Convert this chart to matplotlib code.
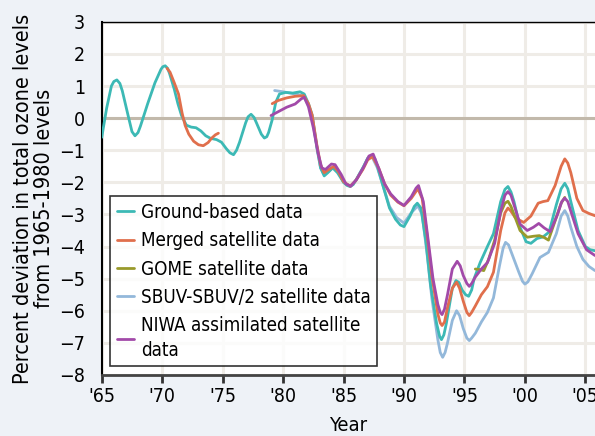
import matplotlib
matplotlib.use("Agg")
from matplotlib import pyplot as plt

# Ground-based data
ground_yr = [1965.0, 1965.4, 1965.8, 1966.0, 1966.25, 1966.5, 1966.7, 1967.2, 1967.5, 1967.75,
             1968.0, 1968.2, 1968.8, 1969.4, 1969.9, 1970.05, 1970.25, 1970.45, 1970.6, 1971.0,
             1971.3, 1971.6, 1972.0, 1972.4, 1972.8, 1973.2, 1973.6, 1974.0, 1974.5, 1974.9,
             1975.3, 1975.6, 1975.9, 1976.15, 1976.4, 1976.9, 1977.1, 1977.35, 1977.6, 1977.8,
             1978.2, 1978.45, 1978.65, 1978.8, 1979.1, 1979.4, 1979.7, 1980.2, 1980.8, 1981.4,
             1981.75, 1982.1, 1982.4, 1982.8, 1983.1, 1983.4, 1983.7, 1984.1, 1984.5, 1985.0,
             1985.3, 1985.55, 1985.8, 1986.0, 1986.6, 1987.0, 1987.35, 1987.6, 1987.8, 1988.3,
             1988.8, 1989.3, 1989.7, 1990.0, 1990.5, 1990.85, 1991.1, 1991.4, 1991.8, 1992.2,
             1992.7, 1992.95, 1993.1, 1993.3, 1993.5, 1994.0, 1994.3, 1994.55, 1994.8, 1995.1,
             1995.35, 1995.6, 1995.8, 1996.3, 1996.9, 1997.4, 1998.0, 1998.35, 1998.6, 1998.85,
             1999.1, 1999.6, 2000.1, 2000.5, 2001.0, 2001.5, 2002.0, 2002.6, 2003.0, 2003.3,
             2003.55, 2003.8, 2004.4, 2005.0, 2005.4, 2005.8]
ground_val = [-0.6, 0.3, 1.0, 1.14, 1.19, 1.08, 0.85, 0.05, -0.42, -0.55,
              -0.45, -0.25, 0.45, 1.1, 1.52, 1.6, 1.63, 1.55, 1.4, 0.9,
              0.45, 0.08, -0.22, -0.28, -0.3, -0.4, -0.55, -0.63, -0.67, -0.75,
              -0.95, -1.08, -1.14, -1.0, -0.75, -0.15, 0.04, 0.12, 0.02, -0.15,
              -0.5, -0.62, -0.58, -0.45, -0.05, 0.5, 0.75, 0.8, 0.78, 0.82,
              0.75, 0.45, 0.1, -0.9, -1.55, -1.8, -1.7, -1.55, -1.7, -2.0,
              -2.1, -2.13, -2.07, -1.95, -1.55, -1.25, -1.17, -1.27, -1.5, -2.15,
              -2.8, -3.15, -3.33, -3.38, -3.05, -2.75, -2.65, -2.8, -3.8, -5.2,
              -6.4, -6.8, -6.9, -6.75, -6.4, -5.3, -5.06, -5.12, -5.35, -5.5,
              -5.55, -5.35, -5.0, -4.5, -4.0, -3.6, -2.6, -2.22, -2.13, -2.3,
              -2.6, -3.4, -3.85, -3.9, -3.75, -3.7, -3.55, -2.7, -2.2, -2.03,
              -2.2, -2.6, -3.5, -4.0, -4.1, -4.13]

# Merged satellite data (two pieces)
merged1_yr = [1970.4, 1970.65, 1971.0, 1971.35, 1971.65, 1971.9, 1972.2, 1972.6, 1973.0, 1973.4,
              1973.8, 1974.1, 1974.4, 1974.65]
merged1_val = [1.55, 1.43, 1.1, 0.75, 0.15, -0.23, -0.5, -0.72, -0.83, -0.86,
               -0.76, -0.62, -0.52, -0.47]
merged2_yr = [1979.1, 1979.6, 1980.3, 1981.0, 1981.7, 1982.1, 1982.4, 1982.8, 1983.1, 1983.4,
              1983.7, 1984.2, 1984.6, 1985.0, 1985.55, 1986.0, 1986.6, 1987.0, 1987.4, 1987.9,
              1988.4, 1988.9, 1989.5, 1990.0, 1990.6, 1991.15, 1991.5, 1991.9, 1992.3, 1992.8,
              1993.0, 1993.15, 1993.35, 1993.6, 1994.0, 1994.35, 1994.6, 1994.9, 1995.2, 1995.4,
              1995.6, 1995.9, 1996.4, 1996.9, 1997.4, 1998.0, 1998.35, 1998.6, 1998.85, 1999.2,
              1999.9, 2000.5, 2001.1, 2001.5, 2001.9, 2002.5, 2003.0, 2003.3, 2003.55, 2003.8,
              2004.3, 2004.8, 2005.3, 2005.8]
merged2_val = [0.45, 0.55, 0.63, 0.68, 0.7, 0.45, 0.1, -0.85, -1.45, -1.7,
               -1.62, -1.5, -1.68, -1.98, -2.12, -1.95, -1.6, -1.3, -1.2, -1.55,
               -2.05, -2.4, -2.62, -2.73, -2.5, -2.2, -2.5, -3.6, -4.9, -6.1,
               -6.38, -6.46, -6.35, -5.9, -5.3, -5.11, -5.3, -5.7, -6.05, -6.15,
               -6.05, -5.85, -5.5, -5.25, -4.8, -3.5, -2.95, -2.8, -2.9, -3.1,
               -3.25, -3.05, -2.65, -2.6, -2.57, -2.1, -1.5, -1.27, -1.4, -1.7,
               -2.5, -2.88, -2.97, -3.04]

# GOME satellite data
gome_yr = [1995.9, 1996.3, 1996.6, 1997.0, 1997.5, 1998.0, 1998.35, 1998.6, 1998.85, 1999.1,
           1999.6, 2000.2, 2000.7, 2001.2, 2001.6, 2001.95, 2002.5, 2003.0, 2003.3]
gome_val = [-4.7, -4.72, -4.75, -4.4, -3.8, -2.95, -2.65, -2.59, -2.75, -3.0,
            -3.5, -3.71, -3.68, -3.66, -3.72, -3.8, -3.2, -2.65, -2.47]

# SBUV-SBUV/2 satellite data
sbuv_yr = [1979.3, 1980.0, 1980.6, 1981.2, 1981.7, 1982.1, 1982.4, 1982.8, 1983.1, 1983.4,
           1983.7, 1984.2, 1984.6, 1985.0, 1985.55, 1986.0, 1986.6, 1987.0, 1987.35, 1987.8,
           1988.3, 1988.8, 1989.4, 1990.0, 1990.6, 1991.15, 1991.5, 1991.9, 1992.3, 1992.8,
           1993.0, 1993.2, 1993.4, 1993.6, 1994.0, 1994.35, 1994.6, 1994.9, 1995.2, 1995.4,
           1995.6, 1995.9, 1996.4, 1996.9, 1997.4, 1997.9, 1998.2, 1998.4, 1998.65, 1998.9,
           1999.5, 1999.8, 2000.0, 2000.25, 2000.6, 2001.25, 2001.95, 2002.6, 2003.0, 2003.3,
           2003.55, 2003.8, 2004.3, 2004.8, 2005.3, 2005.8]
sbuv_val = [0.86, 0.82, 0.78, 0.74, 0.67, 0.4, 0.05, -0.95, -1.55, -1.75,
            -1.68, -1.52, -1.7, -2.0, -2.13, -1.95, -1.55, -1.25, -1.2, -1.55,
            -2.15, -2.75, -3.1, -3.27, -2.95, -2.73, -3.0, -4.2, -5.6, -6.9,
            -7.3, -7.45, -7.3, -7.0, -6.3, -6.0, -6.15, -6.55, -6.85, -6.93,
            -6.85, -6.7, -6.35, -6.05, -5.6, -4.6, -4.05, -3.87, -3.95, -4.2,
            -4.8, -5.08, -5.17, -5.1, -4.85, -4.34, -4.18, -3.6, -3.05, -2.88,
            -3.05, -3.4, -4.0, -4.4, -4.62, -4.75]

# NIWA assimilated satellite data
niwa_yr = [1979.0, 1979.6, 1980.3, 1981.0, 1981.5, 1981.75, 1982.1, 1982.5, 1982.9, 1983.2,
           1983.5, 1984.0, 1984.3, 1984.8, 1985.2, 1985.6, 1986.1, 1986.7, 1987.1, 1987.45,
           1987.9, 1988.4, 1988.9, 1989.5, 1990.0, 1990.6, 1991.0, 1991.2, 1991.6, 1992.0,
           1992.4, 1992.8, 1993.0, 1993.15, 1993.35, 1993.6, 1994.0, 1994.4, 1994.65, 1994.9,
           1995.2, 1995.4, 1995.6, 1995.9, 1996.4, 1996.9, 1997.5, 1998.0, 1998.35, 1998.6,
           1998.85, 1999.1, 1999.6, 2000.2, 2000.7, 2001.15, 2001.6, 2002.1, 2002.7, 2003.05,
           2003.3, 2003.55, 2003.8, 2004.4, 2005.1, 2005.8]
niwa_val = [0.08, 0.2, 0.34, 0.44, 0.6, 0.65, 0.35, -0.3, -1.1, -1.55,
            -1.6, -1.43, -1.45, -1.75, -2.05, -2.12, -1.9, -1.5, -1.18, -1.12,
            -1.55, -2.05, -2.36, -2.6, -2.72, -2.45, -2.18, -2.1, -2.6, -3.8,
            -5.0, -5.8, -6.05, -6.12, -5.95, -5.5, -4.7, -4.46, -4.6, -4.9,
            -5.15, -5.24, -5.15, -4.95, -4.7, -4.5, -3.9, -2.9, -2.4, -2.29,
            -2.4, -2.7, -3.3, -3.5, -3.4, -3.28, -3.42, -3.54, -3.0, -2.6,
            -2.49, -2.6, -2.9, -3.6, -4.1, -4.28]

x_ticks = [1965, 1970, 1975, 1980, 1985, 1990, 1995, 2000, 2005]
x_labels = ["'65", "'70", "'75", "'80", "'85", "'90", "'95", "'00", "'05"]
y_ticks = [3, 2, 1, 0, -1, -2, -3, -4, -5, -6, -7, -8]

plt.rcParams['font.family'] = ['DejaVu Sans']
plt.rcParams['font.stretch'] = 'condensed'

fig = plt.figure(figsize=(5.95, 4.36), dpi=100, facecolor='#eef2f7')
ax = fig.add_axes([0.171, 0.140, 0.829, 0.810])
ax.set_facecolor('white')

lw = 2.0
kw = dict(lw=lw, solid_joinstyle='round', solid_capstyle='round')
ax.plot(ground_yr, ground_val, color='#3cb9b5', label='Ground-based data', zorder=3, **kw)
ax.plot(merged1_yr, merged1_val, color='#e06f4c', label='Merged satellite data', zorder=4, **kw)
ax.plot(merged2_yr, merged2_val, color='#e06f4c', zorder=4, **kw)
ax.plot(gome_yr, gome_val, color='#999a2b', label='GOME satellite data', zorder=5, **kw)
ax.plot(sbuv_yr, sbuv_val, color='#93b8da', label='SBUV-SBUV/2 satellite data', zorder=2, **kw)
ax.plot(niwa_yr, niwa_val, color='#a24aa9', label='NIWA assimilated satellite\ndata', zorder=6, **kw)

ax.axhline(0, color='#c2b9ab', lw=2.2, zorder=1)

ax.set_xlim(1965, 2005.8)
ax.set_ylim(-8, 3)
ax.set_xticks(x_ticks)
ax.set_xticklabels(x_labels)
ax.set_yticks(y_ticks)
ax.grid(True, color='#efece7', lw=2.2, zorder=0)
ax.set_axisbelow(True)

ax.tick_params(axis='x', length=6, width=2, color='#333333', labelsize=14, pad=3)
ax.tick_params(axis='y', length=0, labelsize=14, pad=12)

ax.spines['right'].set_visible(False)
ax.spines['left'].set_color('black')
ax.spines['left'].set_linewidth(1.5)
ax.spines['top'].set_color('black')
ax.spines['top'].set_linewidth(1.0)
ax.spines['bottom'].set_color('#444444')
ax.spines['bottom'].set_linewidth(2)

ax.set_xlabel('Year', fontsize=14.5, labelpad=7)
ax.set_ylabel('Percent deviation in total ozone levels\nfrom 1965-1980 levels', fontsize=15.5,
              linespacing=1.05, labelpad=4)

leg = ax.legend(loc='lower left', bbox_to_anchor=(0.017, 0.025), fontsize=13.5,
                frameon=True, fancybox=False, edgecolor='black', handlelength=0.9,
                handletextpad=0.4, borderpad=0.35, labelspacing=0.5, borderaxespad=0)
leg.get_frame().set_linewidth(1.2)
leg.get_texts()[4].set_linespacing(1.35)
leg.set_zorder(10)

fig.savefig('out.png', dpi=100, facecolor=fig.get_facecolor())
